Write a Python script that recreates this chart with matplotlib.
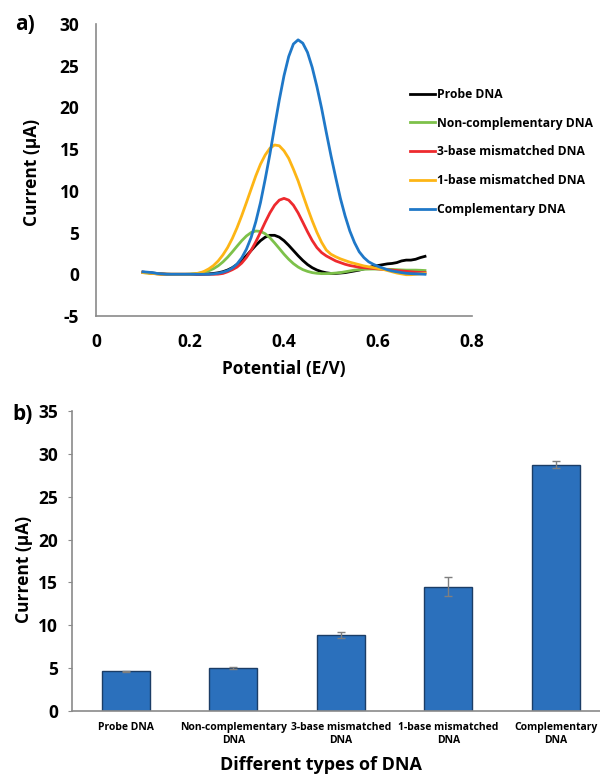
import numpy as np
import matplotlib
matplotlib.use("Agg")
import matplotlib.pyplot as plt

plt.rcParams['font.family'] = ['Open Sans', 'DejaVu Sans']
plt.rcParams['font.weight'] = 'bold'
plt.rcParams['axes.unicode_minus'] = False

# panel a: DPV curves, potential 0.10 .. 0.70 V in 0.01 steps
potential = np.linspace(0.10, 0.70, 61)

probe = [0.25, 0.2, 0.15, 0.1, 0.05, 0.02, 0.0, 0.0, 0.0, 0.0, 0.0, 0.0, 0.0,
         0.02, 0.05, 0.1, 0.18, 0.31, 0.51, 0.79, 1.17, 1.66, 2.23, 2.85, 3.47,
         4.03, 4.45, 4.67, 4.67, 4.45, 4.03, 3.47, 2.85, 2.23, 1.66, 1.17, 0.79,
         0.51, 0.31, 0.18, 0.1, 0.1, 0.15, 0.2, 0.3, 0.4, 0.5, 0.65, 0.8, 0.95,
         1.05, 1.15, 1.25, 1.3, 1.4, 1.6, 1.7, 1.7, 1.8, 2.0, 2.15]
non_comp = [0.2, 0.15, 0.1, 0.05, 0.02, 0.0, 0.0, 0.0, 0.0, 0.0, 0.02, 0.07,
            0.14, 0.25, 0.42, 0.67, 1.02, 1.48, 2.04, 2.68, 3.36, 4.02, 4.59,
            5.0, 5.19, 5.14, 4.86, 4.38, 3.76, 3.09, 2.41, 1.8, 1.28, 0.87, 0.56,
            0.35, 0.2, 0.12, 0.08, 0.08, 0.1, 0.15, 0.2, 0.3, 0.4, 0.5, 0.55, 0.6,
            0.62, 0.63, 0.62, 0.61, 0.6, 0.58, 0.55, 0.52, 0.5, 0.5, 0.5, 0.48, 0.45]
mis3 = [0.25, 0.2, 0.12, 0.06, 0.02, 0.0, 0.0, 0.0, 0.0, 0.0, 0.0, 0.0, 0.0,
        0.0, 0.0, 0.0, 0.02, 0.1, 0.3, 0.55, 0.86, 1.34, 2.01, 2.86, 3.89, 5.04,
        6.24, 7.36, 8.28, 8.89, 9.1, 8.89, 8.28, 7.36, 6.24, 5.1, 4.05, 3.2, 2.6,
        2.2, 1.9, 1.6, 1.4, 1.2, 1.05, 0.95, 0.85, 0.8, 0.75, 0.7, 0.65, 0.6,
        0.55, 0.5, 0.45, 0.4, 0.35, 0.3, 0.25, 0.22, 0.2]
mis1 = [0.2, 0.15, 0.1, 0.05, 0.0, 0.0, 0.0, 0.0, 0.0, 0.0, 0.0, 0.05, 0.15,
        0.35, 0.65, 1.05, 1.6, 2.32, 3.2, 4.29, 5.57, 7.02, 8.59, 10.2, 11.8,
        13.2, 14.3, 15.1, 15.5, 15.4, 14.8, 13.9, 12.6, 11.2, 9.56, 7.95, 6.42,
        5.03, 3.83, 2.9, 2.4, 2.1, 1.85, 1.65, 1.45, 1.3, 1.15, 1.0, 0.9, 0.8,
        0.7, 0.6, 0.45, 0.3, 0.15, 0.05, -0.05, -0.05, 0.0, 0.05, 0.1]
comp = [0.3, 0.25, 0.2, 0.1, 0.05, 0.0, 0.0, 0.0, 0.0, 0.0, 0.0, 0.0, 0.0, 0.0,
        0.0, 0.05, 0.13, 0.25, 0.44, 0.75, 1.23, 1.96, 3.0, 4.4, 6.3, 8.6, 11.4,
        14.4, 17.7, 20.9, 23.8, 26.1, 27.6, 28.1, 27.7, 26.6, 24.8, 22.5, 19.9,
        17.0, 14.2, 11.6, 9.1, 7.0, 5.2, 3.8, 2.7, 2.0, 1.5, 1.2, 0.95, 0.75,
        0.55, 0.4, 0.3, 0.2, 0.12, 0.08, 0.05, 0.03, 0.0]

curve_labels = ["Probe DNA", "Non-complementary DNA", "3-base mismatched DNA",
                "1-base mismatched DNA", "Complementary DNA"]
curve_colors = ["#000000", "#7DC14A", "#EE2A2E", "#FDB515", "#1F78C8"]

# panel b: peak currents
dna_types = ["Probe DNA", "Non-complementary\nDNA", "3-base mismatched\nDNA",
             "1-base mismatched\nDNA", "Complementary\nDNA"]
peak_current = [4.65, 5.0, 8.85, 14.5, 28.75]
peak_err = [0.05, 0.1, 0.35, 1.1, 0.45]

fig = plt.figure(figsize=(6, 7.75), dpi=100)
W, H = 600.0, 775.0
axis_grey = "#8A8A8A"

# ---- panel a
ax1 = fig.add_axes([96 / W, 1 - 316 / H, 376 / W, 292 / H])
for y, lab, col in zip([probe, non_comp, mis3, mis1, comp], curve_labels, curve_colors):
    ax1.plot(potential, y, color=col, lw=2.0, label=lab)
ax1.set_xlim(0, 0.8)
ax1.set_ylim(-5, 30)
ax1.set_xticks([0, 0.2, 0.4, 0.6, 0.8])
ax1.set_xticklabels(["0", "0.2", "0.4", "0.6", "0.8"])
ax1.set_yticks(range(-5, 31, 5))
for s in ["top", "right"]:
    ax1.spines[s].set_visible(False)
for s in ["left", "bottom"]:
    ax1.spines[s].set_color(axis_grey)
    ax1.spines[s].set_linewidth(1.2)
ax1.tick_params(length=0, labelsize=12.5, pad=12)
ax1.set_xlabel("Potential (E/V)", fontsize=12.5, fontweight='bold', va='center')
ax1.xaxis.set_label_coords(0.5, -0.183)
ax1.set_ylabel("Current (µA)", fontsize=12.5, fontweight='bold', va='center', ha='center')
ax1.yaxis.set_label_coords(-0.169, 0.49)
fig.legend(loc="upper left", bbox_to_anchor=(410 / W, 1 - 88 / H), frameon=False,
           fontsize=8.7, handlelength=2.1, handletextpad=0.1, labelspacing=1.3,
           borderpad=0, borderaxespad=0)

# ---- panel b
ax2 = fig.add_axes([72 / W, 1 - 711 / H, 537.5 / W, 300 / H])
xpos = np.arange(len(dna_types))
ax2.bar(xpos, peak_current, width=0.45, color="#2B70BC", edgecolor="#1B3D66", linewidth=1.0,
        yerr=peak_err, error_kw=dict(ecolor="#7F7F7F", elinewidth=1.0, capsize=3, capthick=1.0))
ax2.set_xlim(-0.5, 4.5)
ax2.set_ylim(0, 35)
ax2.set_yticks(range(0, 36, 5))
ax2.set_xticks(xpos)
ax2.set_xticklabels(dna_types, fontsize=7.5)
for s in ["top", "right"]:
    ax2.spines[s].set_visible(False)
for s in ["left", "bottom"]:
    ax2.spines[s].set_color(axis_grey)
    ax2.spines[s].set_linewidth(1.2)
ax2.tick_params(axis='y', length=3, color=axis_grey, labelsize=12.5, pad=7)
ax2.tick_params(axis='x', length=0, pad=8)
ax2.set_xlabel("Different types of DNA", fontsize=13, fontweight='bold', va='center')
ax2.xaxis.set_label_coords(0.463, -0.18)
ax2.set_ylabel("Current (µA)", fontsize=12.5, fontweight='bold', va='center', ha='center')
ax2.yaxis.set_label_coords(-0.0893, 0.473)

fig.text(25 / W, 1 - 25 / H, "a)", fontsize=15, fontweight='bold', ha='center', va='center')
fig.text(23 / W, 1 - 415 / H, "b)", fontsize=15, fontweight='bold', ha='center', va='center')

fig.savefig("out.png", dpi=100)
